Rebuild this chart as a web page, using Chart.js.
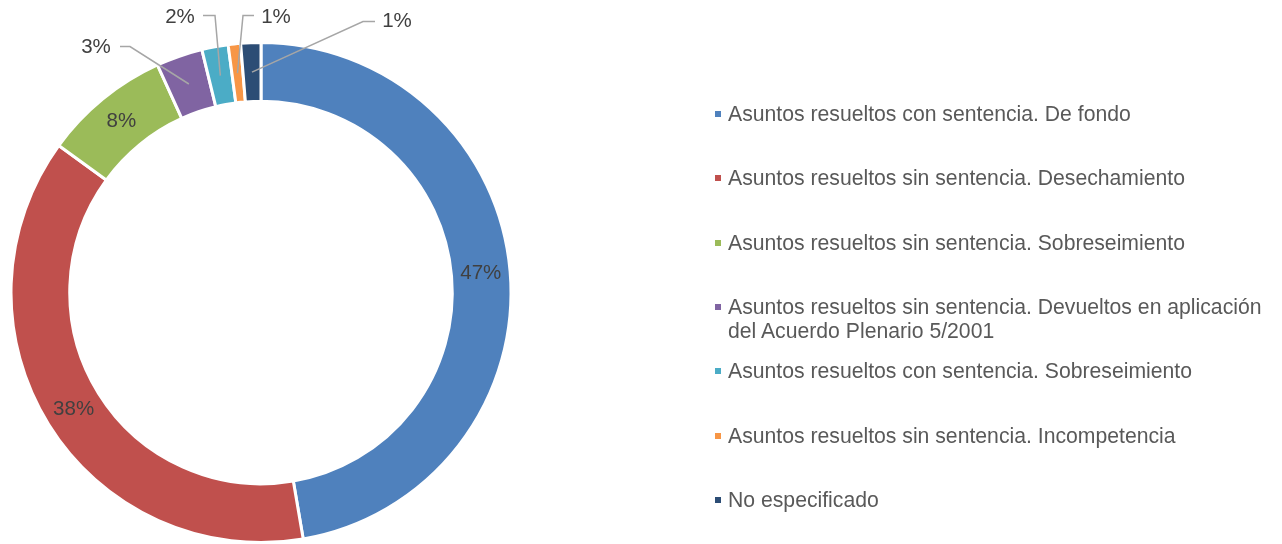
<!DOCTYPE html>
<html>
<head>
<meta charset="utf-8">
<script src="https://cdn.jsdelivr.net/npm/chart.js@4.4.1/dist/chart.umd.min.js"></script>
<style>
  html, body { margin: 0; padding: 0; background: #fff; }
  #wrap { position: relative; width: 1282px; height: 544px; overflow: hidden; }
  #mycanvas { position: absolute; left: 0; top: 0; }
  .leg { position: absolute; left: 715px; font-family: "Liberation Sans", Arial, sans-serif;
         font-size: 21.2px; line-height: 24px; color: #595959; white-space: nowrap; }
  .leg i { position: absolute; left: 0; top: 9px; width: 6px; height: 6px; }
  .leg span { display: block; margin-left: 13px; }
</style>
</head>
<body>
<div id="wrap">
  <canvas id="mycanvas" width="1282" height="544"></canvas>
  <div id="legend"></div>
</div>
<script>
var categories = [
	"Asuntos resueltos con sentencia. De fondo",
	"Asuntos resueltos sin sentencia. Desechamiento",
	"Asuntos resueltos sin sentencia. Sobreseimiento",
	["Asuntos resueltos sin sentencia. Devueltos en aplicación", "del Acuerdo Plenario 5/2001"],
	"Asuntos resueltos con sentencia. Sobreseimiento",
	"Asuntos resueltos sin sentencia. Incompetencia",
	"No especificado"
];
var shares = [47.3, 37.7, 8.2, 3.0, 1.7, 0.8, 1.3];
var colors = ["#4F81BD", "#C0504D", "#9BBB59", "#8064A2", "#4BACC6", "#F79646", "#2C4D75"];

// callouts for the thin slices: label, elbow and line end, relative to the ring centre
var callouts = {
	3: { text: [-165, -245], elbow: [-131, -246], end: [-141, -246] },
	4: { text: [-81, -275], elbow: [-46, -277], end: [-58, -277] },
	5: { text: [15, -275], elbow: [-18, -277], end: [-7, -277] },
	6: { text: [136, -271], elbow: [102, -271], end: [114, -271] }
};

var total = shares.reduce(function(a, b){ return a + b; }, 0);

var sliceLabels = {
	id: 'sliceLabels',
	afterDatasetsDraw: function(chart) {
		var ctx = chart.ctx;
		var meta = chart.getDatasetMeta(0);
		ctx.save();
		ctx.font = '20.5px "Liberation Sans", Arial, sans-serif';
		ctx.fillStyle = '#404040';
		ctx.textAlign = 'center';
		ctx.textBaseline = 'middle';
		meta.data.forEach(function(arc, i){
			var txt = Math.round(shares[i] / total * 100) + '%';
			var p = arc.tooltipPosition();
			var c = callouts[i];
			if (!c) {
				ctx.fillText(txt, p.x, p.y);
				return;
			}
			ctx.strokeStyle = '#A6A6A6';
			ctx.lineWidth = 1.5;
			ctx.beginPath();
			ctx.moveTo(arc.x + c.end[0], arc.y + c.end[1]);
			ctx.lineTo(arc.x + c.elbow[0], arc.y + c.elbow[1]);
			ctx.lineTo(p.x, p.y);
			ctx.stroke();
			ctx.fillText(txt, arc.x + c.text[0], arc.y + c.text[1]);
		});
		ctx.restore();
	}
};

var ctx = document.getElementById('mycanvas');
var chart = new Chart(ctx, {
	type: 'doughnut',
	data: {
		labels: categories,
		datasets: [{
			data: shares,
			backgroundColor: colors,
			borderColor: '#ffffff',
			borderWidth: 3
		}]
	},
	options: {
		responsive: false,
		animation: false,
		devicePixelRatio: 1,
		cutout: '76.5%',
		layout: { padding: { left: 9, right: 769, top: 41, bottom: 0 } },
		plugins: {
			legend: { display: false },
			tooltip: { enabled: false }
		}
	},
	plugins: [sliceLabels]
});

// legend on the right
var legend = document.getElementById('legend');
categories.forEach(function(lab, i){
	var d = document.createElement('div');
	d.className = 'leg';
	d.style.top = (102 + 64.3 * i) + 'px';
	var lines = Array.isArray(lab) ? lab : [lab];
	d.innerHTML = '<i style="background:' + colors[i] + '"></i><span>' + lines.join('<br>') + '</span>';
	legend.appendChild(d);
});
</script>
</body>
</html>
